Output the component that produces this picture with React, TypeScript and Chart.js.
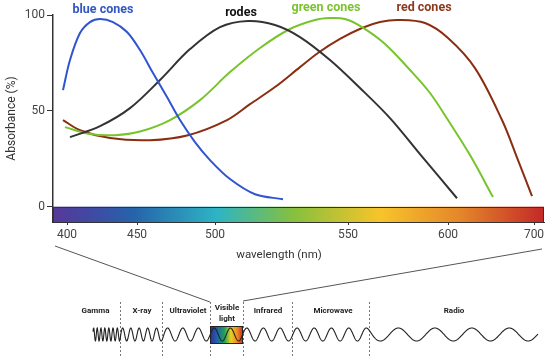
import React, { useEffect, useRef } from "react";
import { Chart, registerables } from "chart.js";
Chart.register(...registerables);

// x values are positions along the (non-linear) wavelength axis, in axis units
const tickPositions = [14, 84, 162, 295, 395, 481];
const tickLabels = ["400", "450", "500", "550", "600", "700"];
const yTickValues = [0, 50, 100];

const blueX = [10, 17, 27, 37, 47, 60, 74, 87, 100, 114, 127, 142, 157, 177, 202, 230];
const blueY = [60.8, 76.5, 90.6, 96.3, 97.9, 96.3, 91.1, 81.7, 69.7, 57.2, 45.2, 33.7, 24.3, 14.4, 6.5, 3.9];

const rodX = [17, 47, 77, 107, 137, 167, 195, 222, 247, 277, 307, 337, 367, 404];
const rodY = [36.3, 42.0, 51.4, 66.1, 82.2, 93.7, 96.9, 94.8, 88.5, 76.5, 61.9, 46.2, 27.4, 4.4];

const greenX = [12, 37, 62, 87, 117, 147, 177, 207, 237, 262, 277, 292, 309, 332, 357, 377, 395, 417, 440];
const greenY = [41.5, 37.9, 37.3, 39.2, 45.2, 55.6, 70.2, 82.8, 92.7, 97.4, 98.4, 97.9, 93.7, 84.9, 71.3, 59.3, 45.2, 26.9, 5.0];

const redX = [10, 27, 57, 97, 135, 174, 197, 222, 247, 265, 287, 309, 327, 345, 372, 395, 422, 449, 465, 479];
const redY = [45.2, 39.9, 35.8, 34.7, 37.3, 45.2, 53.5, 62.4, 72.8, 80.2, 87.5, 93.2, 96.3, 97.4, 95.8, 88.0, 72.3, 45.2, 24.3, 5.5];

const seriesNames = ["blue cones", "rodes", "green cones", "red cones"];
const seriesColors = ["#2f55cf", "#333333", "#78c42c", "#8a2e12"];
const labelColors = ["#3256c2", "#111111", "#7cc330", "#8b3a1f"];

const spectrumBands = ["Gamma", "X-ray", "Ultraviolet", "Visible\nlight", "Infrared", "Microwave", "Radio"];

const toPts = (xs: number[], ys: number[]) => xs.map((x, i) => ({ x, y: ys[i] }));

const decorPlugin = {
  id: "decor",
  beforeDatasetsDraw(chart: any) {
    const { ctx, chartArea, scales } = chart;
    const y0 = scales.y.getPixelForValue(0);
    const l = chartArea.left, r = chartArea.right, b = chartArea.bottom;
    const g = ctx.createLinearGradient(l, 0, r, 0);
    g.addColorStop(0, "#57389a");
    g.addColorStop(0.08, "#3f4aa3");
    g.addColorStop(0.163, "#2663aa");
    g.addColorStop(0.334, "#2eb4c4");
    g.addColorStop(0.49, "#86c03e");
    g.addColorStop(0.666, "#f8c42a");
    g.addColorStop(0.83, "#e4862a");
    g.addColorStop(1, "#c42828");
    ctx.save();
    ctx.fillStyle = g;
    ctx.fillRect(l, y0, r - l, b - y0);
    ctx.strokeStyle = "#333";
    ctx.lineWidth = 1;
    ctx.strokeRect(Math.round(l) + 0.5, Math.round(y0) + 0.5, Math.round(r - l) - 1, Math.round(b - y0));
    ctx.restore();
  },
  afterDraw(chart: any) {
    const { ctx, scales } = chart;
    ctx.save();
    // series labels
    const labelX = [50, 188, 273, 371];
    const labelYpx = [10, 13, 8, 8];
    ctx.font = "bold 12.5px Roboto";
    ctx.textAlign = "center";
    ctx.textBaseline = "middle";
    seriesNames.forEach((n, i) => {
      ctx.fillStyle = labelColors[i];
      ctx.fillText(n, scales.x.getPixelForValue(labelX[i]), labelYpx[i]);
    });
    // x-axis title
    ctx.font = "11.5px Roboto";
    ctx.fillStyle = "#333";
    ctx.fillText("wavelength (nm)", 279, 255);

    // electromagnetic spectrum diagram
    ctx.strokeStyle = "#555";
    ctx.lineWidth = 1;
    ctx.beginPath();
    ctx.moveTo(55, 246);
    ctx.lineTo(210, 302);
    ctx.moveTo(243, 301);
    ctx.lineTo(542, 249);
    ctx.stroke();

    // separators
    ctx.setLineDash([2, 2]);
    ctx.strokeStyle = "#777";
    [120, 162, 210, 243, 292, 369].forEach((x) => {
      ctx.beginPath();
      ctx.moveTo(x + 0.5, 302);
      ctx.lineTo(x + 0.5, 358);
      ctx.stroke();
    });
    ctx.setLineDash([]);

    // band labels
    ctx.font = "bold 8px Roboto";
    ctx.fillStyle = "#222";
    const bandX = [95.5, 142, 188, 227, 268, 333, 454];
    spectrumBands.forEach((t, i) => {
      const lines = t.split("\n");
      if (lines.length === 1) ctx.fillText(t, bandX[i], 311);
      else {
        ctx.fillText(lines[0], bandX[i], 308);
        ctx.fillText(lines[1], bandX[i], 319);
      }
    });

    // visible box
    const bx = 210, by = 326, bw = 32, bh = 17;
    const vg = ctx.createLinearGradient(bx, 0, bx + bw, 0);
    vg.addColorStop(0, "#3a2a8a");
    vg.addColorStop(0.2, "#1f5fb0");
    vg.addColorStop(0.45, "#1ea05a");
    vg.addColorStop(0.65, "#e8d020");
    vg.addColorStop(0.85, "#f08a20");
    vg.addColorStop(1, "#d03a20");
    ctx.fillStyle = vg;
    ctx.fillRect(bx, by, bw, bh);

    // wave
    const knots: [number, number][] = [[93, 3.5], [120, 4.5], [122, 8], [160, 9], [166, 15], [210, 16], [290, 17], [365, 17.5], [378, 36], [538, 38]];
    const period = (x: number) => {
      for (let k = 0; k < knots.length - 1; k++) {
        const [x1, p1] = knots[k], [x2, p2] = knots[k + 1];
        if (x <= x2) return p1 + ((p2 - p1) * (x - x1)) / (x2 - x1);
      }
      return knots[knots.length - 1][1];
    };
    ctx.strokeStyle = "#222";
    ctx.lineWidth = 1.1;
    ctx.beginPath();
    let ph = 0;
    for (let x = 93; x <= 538; x += 0.25) {
      ph += (2 * Math.PI * 0.25) / period(x);
      const y = 334.5 - 6.5 * Math.sin(ph);
      if (x === 93) ctx.moveTo(x, y);
      else ctx.lineTo(x, y);
    }
    ctx.stroke();

    ctx.strokeStyle = "#222";
    ctx.lineWidth = 1;
    ctx.strokeRect(bx + 0.5, by + 0.5, bw, bh);
    ctx.restore();
  },
};

export default function App() {
  const ref = useRef<HTMLCanvasElement>(null);
  useEffect(() => {
    document.body.style.margin = "0";
    const xs = [blueX, rodX, greenX, redX];
    const ys = [blueY, rodY, greenY, redY];
    const chart = new Chart(ref.current!, {
      type: "line",
      data: {
        datasets: seriesNames.map((n, i) => ({
          label: n,
          data: toPts(xs[i], ys[i]),
          borderColor: seriesColors[i],
          borderWidth: 2,
          pointRadius: 0,
          fill: false,
          tension: 0.35,
        })),
      },
      options: {
        responsive: false,
        animation: false,
        layout: { padding: { top: 15, right: 6, bottom: 101, left: 0 } },
        plugins: { legend: { display: false }, tooltip: { enabled: false } },
        font: { family: "Roboto" },
        scales: {
          x: {
            type: "linear",
            min: 0,
            max: 491,
            afterBuildTicks: (s: any) => {
              s.ticks = tickPositions.map((v) => ({ value: v }));
            },
            afterFit: (s: any) => {
              s.height = 40;
            },
            border: { display: true, color: "#333", width: 1 },
            grid: { drawOnChartArea: false, drawTicks: true, tickLength: 3, color: "#333" },
            ticks: {
              autoSkip: false,
              maxRotation: 0,
              padding: 3,
              color: "#444",
              font: { family: "Roboto", size: 12 },
              callback: (_v: any, i: number) => tickLabels[i],
            },
          },
          y: {
            type: "linear",
            min: -8,
            max: 100,
            afterBuildTicks: (s: any) => {
              s.ticks = yTickValues.map((v) => ({ value: v }));
            },
            afterFit: (s: any) => {
              s.width = 53;
            },
            border: { display: true, color: "#333", width: 1.5 },
            grid: { drawOnChartArea: false, drawTicks: true, tickLength: 6, color: "#333" },
            ticks: {
              padding: 2,
              color: "#444",
              font: { family: "Roboto", size: 12 },
            },
            title: {
              display: true,
              text: "Absorbance (%)",
              color: "#333",
              font: { family: "Roboto", size: 12 },
              padding: { top: 5, bottom: 0 },
            },
          },
        },
      },
      plugins: [decorPlugin],
    } as any);
    return () => chart.destroy();
  }, []);
  return (
    <div style={{ width: 550, height: 363 }}>
      <canvas ref={ref} width={550} height={363} />
    </div>
  );
}
